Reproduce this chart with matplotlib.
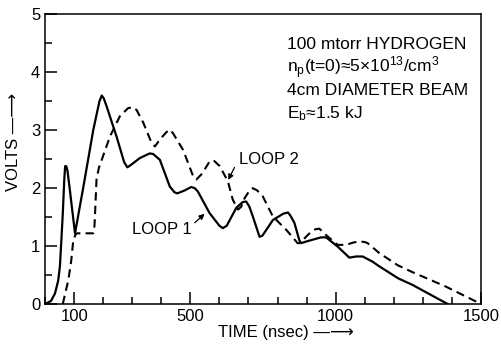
import matplotlib.pyplot as plt; plt.switch_backend('agg')
from matplotlib.ticker import MultipleLocator, FixedLocator

plt.rcParams['font.family'] = ['Liberation Sans', 'DejaVu Sans']
plt.rcParams['mathtext.fontset'] = 'custom'
plt.rcParams['mathtext.rm'] = 'Liberation Sans'
plt.rcParams['mathtext.it'] = 'Liberation Sans'

# loop 1 (solid), time in nsec, volts
t_loop1 = [0, 20, 34, 45, 51, 56, 61, 66, 69, 73, 77, 85, 92, 103,
           132, 166, 187, 195, 202, 212, 246, 272, 283, 295, 326, 360, 372,
           395, 429, 445, 455, 480, 503, 515, 526, 566, 600, 612, 625, 658,
           680, 692, 703, 715, 738, 748, 784, 820, 836, 845, 858, 875, 881,
           900, 921, 950, 967, 1007, 1047, 1070, 1093, 1127, 1150, 1216,
           1264, 1385]
v_loop1 = [0, 0.05, 0.18, 0.4, 0.65, 1.1, 1.57, 2.15, 2.38, 2.38, 2.3, 1.98, 1.68, 1.22,
           2.03, 3.01, 3.5, 3.6, 3.55, 3.41, 2.89, 2.45, 2.36, 2.4, 2.52, 2.6, 2.59,
           2.49, 2.03, 1.93, 1.91, 1.96, 2.02, 2.0, 1.94, 1.57, 1.35, 1.31, 1.35, 1.66,
           1.76, 1.77, 1.68, 1.51, 1.16, 1.18, 1.45, 1.56, 1.58, 1.52, 1.4, 1.1, 1.05,
           1.08, 1.11, 1.15, 1.15, 0.99, 0.8, 0.82, 0.82, 0.73, 0.65, 0.44,
           0.33, 0]

# loop 2 (dashed)
t_loop2 = [61, 70, 80, 90, 97, 105, 110, 166, 170, 174, 177, 185, 195, 223,
           257, 285, 301, 315, 338, 365, 378, 395, 418, 429, 440, 475, 510,
           521, 540, 566, 580, 601, 629, 646, 664, 675, 687, 705, 715, 730,
           749, 784, 830, 869, 875, 890, 910, 930, 944, 967, 1007, 1036, 1060,
           1081, 1100, 1110, 1150, 1213, 1264, 1379, 1500]
v_loop2 = [0, 0.2, 0.41, 0.75, 1.1, 1.2, 1.22, 1.22, 1.35, 1.8, 2.15, 2.35, 2.49, 2.89,
           3.24, 3.38, 3.4, 3.35, 3.13, 2.8, 2.72, 2.84, 2.97, 3.01, 2.95, 2.66, 2.2,
           2.15, 2.25, 2.46, 2.48, 2.38, 2.12, 1.8, 1.63, 1.68, 1.83, 1.97, 2.0, 1.96,
           1.86, 1.51, 1.28, 1.05, 1.05, 1.12, 1.22, 1.29, 1.3, 1.19, 1.02, 1.02, 1.06,
           1.08, 1.07, 1.05, 0.88, 0.67, 0.55, 0.3, 0]

x_labels = [100, 500, 1000, 1500]
info_lines = ['100 mtorr HYDROGEN',
              r'n$_{\rm p}$(t=0)≈5×10$^{13}$/cm$^{3}$',
              '4cm DIAMETER BEAM',
              r'E$_{\rm b}$≈1.5 kJ']

fig = plt.figure(figsize=(5.01, 3.45), dpi=100)
ax = fig.add_axes([0.09, 0.119, 0.87, 0.839])

ax.plot(t_loop1, v_loop1, color='black', lw=1.6)
ax.plot(t_loop2, v_loop2, color='black', lw=1.5, ls=(0, (4, 2.5)))

ax.set_xlim(0, 1500)
ax.set_ylim(0, 5)
ax.xaxis.set_major_locator(FixedLocator(x_labels))
ax.xaxis.set_minor_locator(MultipleLocator(100))
ax.yaxis.set_major_locator(MultipleLocator(1))
ax.yaxis.set_minor_locator(MultipleLocator(0.5))
ax.tick_params(which='both', direction='in', width=1.1, labelsize=12)
ax.tick_params(which='major', length=8.5)
ax.tick_params(which='minor', length=5)
for s in ax.spines.values():
    s.set_linewidth(1.1)

### info block, upper right
for i, line in enumerate(info_lines):
    ax.text(834, 4.48 - i * 0.4, line, fontsize=12.5, va='center', ha='left')

### curve labels
arrow = dict(arrowstyle='-|>', color='black', lw=0.9, mutation_scale=8)
ax.text(669, 2.49, 'LOOP 2', fontsize=12, va='center', ha='left')
ax.annotate('', xy=(626, 2.1), xytext=(656, 2.4), arrowprops=arrow)
ax.text(505, 1.28, 'LOOP 1', fontsize=12, va='center', ha='right')
ax.annotate('', xy=(556, 1.59), xytext=(508, 1.37), arrowprops=arrow)

fig.text(0.026, 0.59, 'VOLTS —⟶', rotation=90, fontsize=12, ha='center', va='center')
fig.text(0.57, 0.035, 'TIME (nsec) —⟶', fontsize=12, ha='center', va='center')

plt.savefig('out.png', dpi=100)
